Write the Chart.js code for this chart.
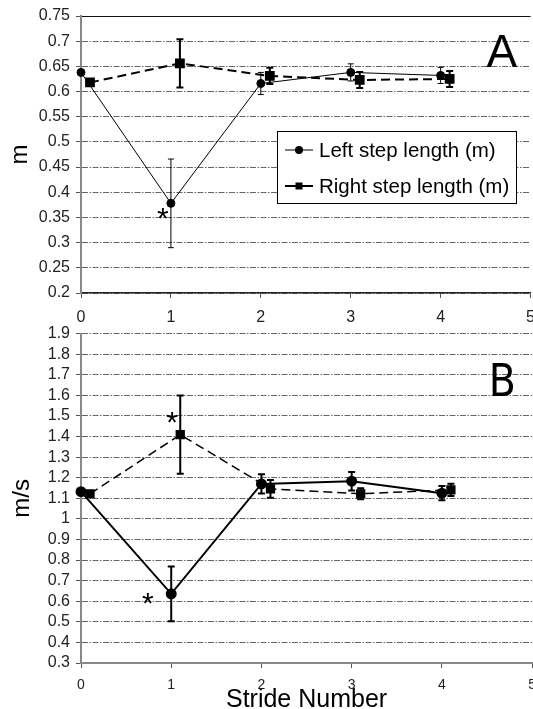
<!DOCTYPE html>
<html lang="en">
<head>
    <meta charset="UTF-8">
    <title>Step length and speed per stride</title>
    <script src="https://cdn.jsdelivr.net/npm/chart.js"></script>
    <style>
        html, body { margin: 0; padding: 0; background: #fff; overflow: hidden; }
        body { width: 533px; height: 709px; position: relative; }
        .panel { position: absolute; left: 0; width: 545px; }
        #panelA { top: 0; height: 323px; }
        #panelB { top: 318px; height: 391px; }
    </style>
    <script>
        // stride numbers (right steps are plotted a little to the right)
        const strideLeft = [0, 1, 2, 3, 4];
        const strideRight = [0.1, 1.1, 2.1, 3.1, 4.1];

        // panel A: step length (m), mean and SD
        const leftStepLength = [0.638, 0.378, 0.616, 0.638, 0.632];
        const leftStepLengthSD = [0, 0.088, 0.022, 0.017, 0.016];
        const rightStepLength = [0.618, 0.656, 0.631, 0.623, 0.625];
        const rightStepLengthSD = [0, 0.048, 0.016, 0.016, 0.016];

        // panel B: speed (m/s), mean and SD
        const speedLeft = [1.132, 0.636, 1.17, 1.183, 1.125];
        const speedLeftSD = [0, 0.133, 0.047, 0.045, 0.035];
        const speedRight = [1.122, 1.409, 1.146, 1.122, 1.141];
        const speedRightSD = [0, 0.19, 0.043, 0.027, 0.03];

        // significance stars and panel letters, in data coordinates
        const notesA = [
            { text: '*', x: 0.91, y: 0.363, size: 30 },
            { text: 'A', x: 4.68, y: 0.682, size: 46, middle: true }
        ];
        const notesB = [
            { text: '*', x: 0.74, y: 0.627, size: 30 },
            { text: '*', x: 1.01, y: 1.507, size: 30 },
            { text: 'B', x: 4.67, y: 1.676, size: 44, middle: true, narrow: true }
        ];

        const FONT = 'Arial, "Liberation Sans", sans-serif';
        const GRID_DASH = [6, 1.5, 1.5, 1.5];

        const toPoints = (xs, ys) => xs.map((x, i) => ({ x, y: ys[i] }));

        // vertical SD bars with caps
        const errorBars = {
            id: 'errorBars',
            afterDatasetsDraw(chart) {
                const { ctx, scales: { x, y } } = chart;
                chart.data.datasets.forEach(ds => {
                    if (!ds.sd) return;
                    ctx.save();
                    ctx.strokeStyle = '#000';
                    ctx.lineWidth = ds.sdWidth || 1;
                    ds.data.forEach((p, i) => {
                        const sd = ds.sd[i];
                        if (!sd) return;
                        const px = x.getPixelForValue(p.x);
                        const top = y.getPixelForValue(p.y + sd);
                        const bot = y.getPixelForValue(p.y - sd);
                        const c = ds.capHalf || 3;
                        ctx.beginPath();
                        ctx.moveTo(px, top); ctx.lineTo(px, bot);
                        ctx.moveTo(px - c, top); ctx.lineTo(px + c, top);
                        ctx.moveTo(px - c, bot); ctx.lineTo(px + c, bot);
                        ctx.stroke();
                    });
                    ctx.restore();
                });
            }
        };

        // stars and panel letter
        const notes = {
            id: 'notes',
            afterDraw(chart, args, opts) {
                const { ctx, scales: { x, y } } = chart;
                ctx.save();
                ctx.fillStyle = '#000';
                ctx.textAlign = 'center';
                ctx.textBaseline = 'alphabetic';
                (opts.items || []).forEach(n => {
                    const fam = n.narrow ? '"Liberation Sans Narrow", "DejaVu Sans Condensed", ' + FONT : FONT;
                    ctx.font = n.size + 'px ' + fam;
                    const px = x.getPixelForValue(n.x);
                    const py = y.getPixelForValue(n.y);
                    ctx.fillText(n.text, px, py + n.size * (n.middle ? 0.36 : 0.57));
                });
                ctx.restore();
            }
        };

        // boxed legend placed inside the plot
        const boxLegend = {
            id: 'boxLegend',
            afterDraw(chart, args, o) {
                const ctx = chart.ctx;
                ctx.save();
                ctx.fillStyle = '#fff';
                ctx.fillRect(o.x, o.y, o.w, o.h);
                ctx.strokeStyle = '#000';
                ctx.lineWidth = 1;
                ctx.strokeRect(o.x + 0.5, o.y + 0.5, o.w, o.h);
                ctx.font = o.fontSize + 'px ' + FONT;
                ctx.textBaseline = 'middle';
                ctx.textAlign = 'left';
                chart.data.datasets.forEach((ds, i) => {
                    const ry = o.y + o.row0 + i * o.rowGap;
                    const x0 = o.x + o.lineX0, x1 = o.x + o.lineX1, cx = (x0 + x1) / 2;
                    ctx.strokeStyle = '#000';
                    ctx.lineWidth = o.lineWidths[i];
                    ctx.beginPath();
                    ctx.moveTo(x0, ry); ctx.lineTo(x1, ry);
                    ctx.stroke();
                    ctx.fillStyle = '#000';
                    if (ds.pointStyle === 'rect') {
                        ctx.fillRect(cx - 3.5, ry - 3.5, 7, 7);
                    } else {
                        ctx.beginPath();
                        ctx.arc(cx, ry, 4, 0, Math.PI * 2);
                        ctx.fill();
                    }
                    ctx.fillText(ds.label, o.x + o.textX, ry + 1);
                });
                ctx.restore();
            }
        };

        function tickFormat(digits) {
            return v => String(+v.toFixed(digits));
        }

        function makeChart(id, cfg) {
            return new Chart(document.getElementById(id), {
                type: 'line',
                data: { datasets: cfg.datasets },
                options: {
                    responsive: true,
                    maintainAspectRatio: false,
                    animation: false,
                    devicePixelRatio: 1,
                    layout: { padding: { top: cfg.padTop, right: 12, left: 0, bottom: 0 } },
                    plugins: {
                        legend: { display: false },
                        tooltip: { enabled: false },
                        notes: { items: cfg.notes },
                        boxLegend: cfg.legend
                    },
                    scales: {
                        x: {
                            type: 'linear',
                            min: 0, max: 5,
                            afterFit: s => { s.height = cfg.xHeight; },
                            ticks: {
                                stepSize: 1,
                                color: '#222',
                                padding: cfg.xTickPad,
                                maxRotation: 0,
                                font: { family: FONT, size: cfg.xTickSize }
                            },
                            grid: { drawOnChartArea: false, tickLength: 5, tickColor: '#555' },
                            border: { color: cfg.xBorder, width: cfg.xBorderWidth },
                            title: cfg.xTitle
                        },
                        y: {
                            min: cfg.yMin, max: cfg.yMax,
                            afterFit: s => { s.width = 81; },
                            ticks: {
                                stepSize: cfg.yStep,
                                autoSkip: false,
                                color: '#222',
                                padding: 6,
                                callback: tickFormat(2),
                                font: { family: FONT, size: 16 }
                            },
                            grid: {
                                tickLength: 5,
                                tickColor: '#555',
                                lineWidth: 1,
                                color: c => (cfg.solidTop && c.tick && c.tick.value >= cfg.yMax - 1e-6) ? '#111' : '#666'
                            },
                            border: {
                                color: '#888', width: 2,
                                dash: c => (cfg.solidTop && c.tick && c.tick.value >= cfg.yMax - 1e-6) ? [] : GRID_DASH
                            },
                            title: {
                                display: true,
                                text: cfg.yTitle,
                                color: '#000',
                                padding: { top: cfg.yTitlePad, bottom: 0 },
                                font: { family: FONT, size: 24, lineHeight: 1.2 }
                            }
                        }
                    }
                },
                plugins: [errorBars, notes, boxLegend]
            });
        }

        window.onload = function () {
            makeChart('chartA', {
                padTop: 16,
                xHeight: 30,
                xTickPad: 10,
                xTickSize: 16,
                xBorder: '#222', xBorderWidth: 1.5,
                yMin: 0.2, yMax: 0.75, yStep: 0.05,
                yTitle: 'm', yTitlePad: 6,
                solidTop: true,
                xTitle: { display: false },
                notes: notesA,
                legend: {
                    x: 277, y: 131, w: 239, h: 72, row0: 19, rowGap: 36,
                    lineX0: 8, lineX1: 36, textX: 42, fontSize: 20.5, lineWidths: [1, 2]
                },
                datasets: [
                    {
                        label: 'Left step length (m)',
                        data: toPoints(strideLeft, leftStepLength),
                        sd: leftStepLengthSD, sdWidth: 1, capHalf: 3,
                        borderColor: '#000', backgroundColor: '#000',
                        borderWidth: 1, pointStyle: 'circle', pointRadius: 4,
                        tension: 0, clip: false
                    },
                    {
                        label: 'Right step length (m)',
                        data: toPoints(strideRight, rightStepLength),
                        sd: rightStepLengthSD, sdWidth: 2, capHalf: 3.5,
                        borderColor: '#000', backgroundColor: '#000',
                        borderWidth: 2, borderDash: [9, 5],
                        pointStyle: 'rect', pointRadius: 5.5,
                        tension: 0, clip: false
                    }
                ]
            });

            makeChart('chartB', {
                padTop: 14,
                xHeight: 46,
                xTickPad: 9,
                xTickSize: 14,
                xBorder: '#888', xBorderWidth: 2,
                yMin: 0.3, yMax: 1.9, yStep: 0.1,
                yTitle: 'm/s', yTitlePad: 8,
                solidTop: false,
                xTitle: {
                    display: true,
                    text: 'Stride Number',
                    color: '#000',
                    padding: { top: 0, bottom: 0 },
                    font: { family: FONT, size: 25, lineHeight: 0.75 }
                },
                notes: notesB,
                legend: {
                    x: 283, y: 537, w: 246, h: 70, row0: 18, rowGap: 37,
                    lineX0: 19, lineX1: 50, textX: 55, fontSize: 19.5, lineWidths: [2, 2]
                },
                datasets: [
                    {
                        label: 'Speed left step (m/s)',
                        data: toPoints(strideLeft, speedLeft),
                        sd: speedLeftSD, sdWidth: 2, capHalf: 3.5,
                        borderColor: '#000', backgroundColor: '#000',
                        borderWidth: 2, pointStyle: 'circle', pointRadius: 4.5,
                        tension: 0, clip: false
                    },
                    {
                        label: 'Speed right step (m/s)',
                        data: toPoints(strideRight, speedRight),
                        sd: speedRightSD, sdWidth: 2, capHalf: 3.5,
                        borderColor: '#000', backgroundColor: '#000',
                        borderWidth: 1.5, borderDash: [9, 5],
                        pointStyle: 'rect', pointRadius: 5.5,
                        tension: 0, clip: false
                    }
                ]
            });
        };
    </script>
</head>
<body>
    <div class="panel" id="panelA"><canvas id="chartA"></canvas></div>
    <div class="panel" id="panelB"><canvas id="chartB"></canvas></div>
</body>
</html>
